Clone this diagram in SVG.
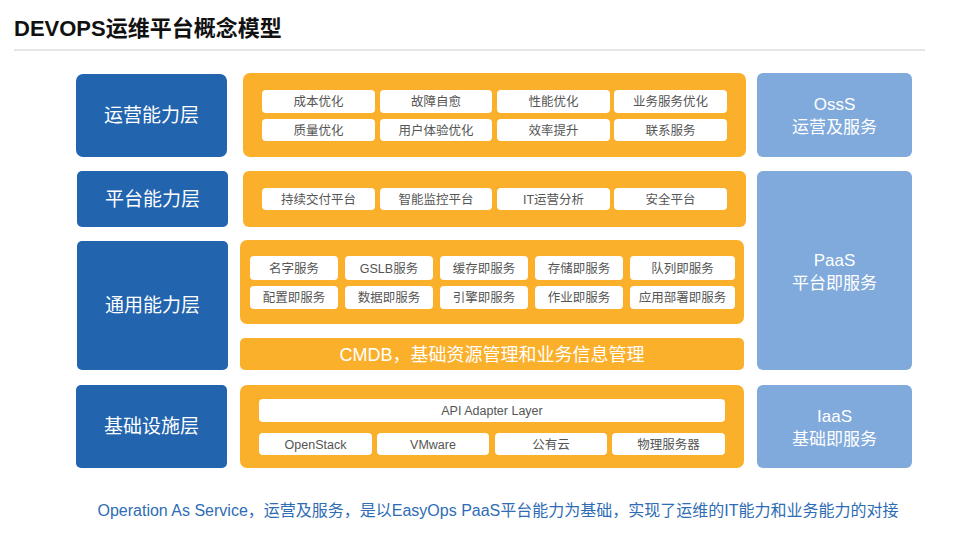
<svg xmlns="http://www.w3.org/2000/svg" width="959" height="539" viewBox="0 0 959 539">
<style>
text{font-family:"Liberation Sans","Noto Sans CJK SC",sans-serif;text-anchor:middle}
.l{fill:#2264ae}
.o{fill:#fbb02c}
.r{fill:#80aadb}
.w{fill:#fff}
.lt{fill:#fff;font-size:19px}
.wt{fill:#555;font-size:12.5px}
</style>
<rect width="959" height="539" fill="#fff"/>
<text x="14" y="36" style="text-anchor:start;font-size:22px;font-weight:bold" fill="#111">DEVOPS运维平台概念模型</text>
<line x1="14" y1="50" x2="925" y2="50" stroke="#ccc" stroke-width="1"/>
<g id="layer-ops"><rect class="l" x="76" y="74" width="151" height="83" rx="7"/><text class="lt" x="151.5" y="122">运营能力层</text></g>
<g id="layer-platform"><rect class="l" x="77" y="171" width="151" height="56" rx="5"/><text class="lt" x="152.5" y="206">平台能力层</text></g>
<g id="layer-general"><rect class="l" x="77" y="241" width="151" height="129" rx="5"/><text class="lt" x="152.5" y="312">通用能力层</text></g>
<g id="layer-infra"><rect class="l" x="76" y="385" width="151" height="83" rx="5"/><text class="lt" x="151.5" y="433">基础设施层</text></g>
<g id="right-oss"><rect class="r" x="757" y="73" width="155" height="84" rx="6"/><text class="lt" x="834.5" y="110" style="font-size:17px">OssS</text><text class="lt" x="834.5" y="133" style="font-size:17px">运营及服务</text></g>
<g id="right-paas"><rect class="r" x="757" y="171" width="155" height="199" rx="6"/><text class="lt" x="834.5" y="266" style="font-size:17px">PaaS</text><text class="lt" x="834.5" y="289" style="font-size:17px">平台即服务</text></g>
<g id="right-iaas"><rect class="r" x="757" y="385" width="155" height="83" rx="6"/><text class="lt" x="834.5" y="422" style="font-size:17px">IaaS</text><text class="lt" x="834.5" y="445" style="font-size:17px">基础即服务</text></g>
<g id="ops-panel"><rect class="o" x="243" y="73" width="503" height="84" rx="7"/>
<rect class="w" x="262" y="90" width="113" height="23" rx="4"/><text class="wt" x="318.5" y="106">成本优化</text>
<rect class="w" x="380" y="90" width="112" height="23" rx="4"/><text class="wt" x="436" y="106">故障自愈</text>
<rect class="w" x="497" y="90" width="113" height="23" rx="4"/><text class="wt" x="553.5" y="106">性能优化</text>
<rect class="w" x="614" y="90" width="113" height="23" rx="4"/><text class="wt" x="670.5" y="106">业务服务优化</text>
<rect class="w" x="262" y="119" width="113" height="22" rx="4"/><text class="wt" x="318.5" y="135">质量优化</text>
<rect class="w" x="380" y="119" width="112" height="22" rx="4"/><text class="wt" x="436" y="135">用户体验优化</text>
<rect class="w" x="497" y="119" width="113" height="22" rx="4"/><text class="wt" x="553.5" y="135">效率提升</text>
<rect class="w" x="614" y="119" width="113" height="22" rx="4"/><text class="wt" x="670.5" y="135">联系服务</text></g>
<g id="platform-panel"><rect class="o" x="243" y="171" width="503" height="56" rx="6"/>
<rect class="w" x="262" y="188" width="113" height="22" rx="4"/><text class="wt" x="318.5" y="204">持续交付平台</text>
<rect class="w" x="380" y="188" width="112" height="22" rx="4"/><text class="wt" x="436" y="204">智能监控平台</text>
<rect class="w" x="497" y="188" width="113" height="22" rx="4"/><text class="wt" x="553.5" y="204">IT运营分析</text>
<rect class="w" x="614" y="188" width="113" height="22" rx="4"/><text class="wt" x="670.5" y="204">安全平台</text></g>
<g id="general-panel"><rect class="o" x="240" y="240" width="504" height="84" rx="7"/>
<rect class="w" x="250" y="256" width="88" height="24" rx="4"/><text class="wt" x="294" y="273">名字服务</text>
<rect class="w" x="345" y="256" width="88" height="24" rx="4"/><text class="wt" x="389" y="273">GSLB服务</text>
<rect class="w" x="440" y="256" width="88" height="24" rx="4"/><text class="wt" x="484" y="273">缓存即服务</text>
<rect class="w" x="535" y="256" width="88" height="24" rx="4"/><text class="wt" x="579" y="273">存储即服务</text>
<rect class="w" x="630" y="256" width="105" height="24" rx="4"/><text class="wt" x="682.5" y="273">队列即服务</text>
<rect class="w" x="250" y="286" width="88" height="23" rx="4"/><text class="wt" x="294" y="302">配置即服务</text>
<rect class="w" x="345" y="286" width="88" height="23" rx="4"/><text class="wt" x="389" y="302">数据即服务</text>
<rect class="w" x="440" y="286" width="88" height="23" rx="4"/><text class="wt" x="484" y="302">引擎即服务</text>
<rect class="w" x="535" y="286" width="88" height="23" rx="4"/><text class="wt" x="579" y="302">作业即服务</text>
<rect class="w" x="630" y="286" width="105" height="23" rx="4"/><text class="wt" x="682.5" y="302">应用部署即服务</text></g>
<g id="cmdb"><rect class="o" x="240" y="338" width="504" height="32" rx="5"/><text x="492" y="361" fill="#fff" style="font-size:18px">CMDB，基础资源管理和业务信息管理</text></g>
<g id="infra-panel"><rect class="o" x="240" y="385" width="504" height="83" rx="7"/>
<rect class="w" x="259" y="399" width="466" height="23" rx="4"/><text class="wt" x="492" y="415">API Adapter Layer</text>
<rect class="w" x="259" y="433" width="113" height="22" rx="4"/><text class="wt" x="315.5" y="449">OpenStack</text>
<rect class="w" x="377" y="433" width="112" height="22" rx="4"/><text class="wt" x="433" y="449">VMware</text>
<rect class="w" x="495" y="433" width="112" height="22" rx="4"/><text class="wt" x="551" y="449">公有云</text>
<rect class="w" x="612" y="433" width="113" height="22" rx="4"/><text class="wt" x="668.5" y="449">物理服务器</text></g>
<g id="connectors"></g>
<text x="498" y="516" fill="#2e6db5" style="font-size:16px">Operation As Service，运营及服务，是以EasyOps  PaaS平台能力为基础，实现了运维的IT能力和业务能力的对接</text>
</svg>
